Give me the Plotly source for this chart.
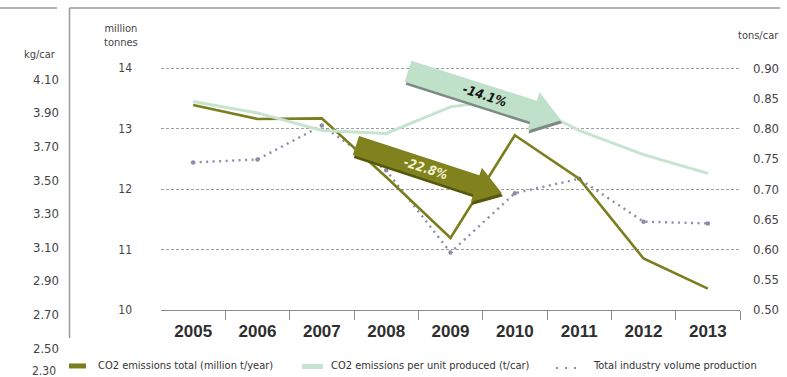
import numpy as np
import plotly.graph_objects as go

# ---------------- data ----------------
years = [2005, 2006, 2007, 2008, 2009, 2010, 2011, 2012, 2013]
co2_total = [13.39, 13.16, 13.17, 12.20, 11.19, 12.89, 12.17, 10.85, 10.35]       # million t/year
co2_per_unit = [0.845, 0.826, 0.797, 0.792, 0.836, 0.850, 0.797, 0.757, 0.726]   # t/car
production = [12.44, 12.49, 13.05, 12.31, 10.95, 11.93, 12.17, 11.46, 11.43]     # volume index (drawn on left scale)

left_ticks = [10, 11, 12, 13, 14]
right_ticks = [0.50, 0.55, 0.60, 0.65, 0.70, 0.75, 0.80, 0.85, 0.90]
kg_ticks = [2.50, 2.70, 2.90, 3.10, 3.30, 3.50, 3.70, 3.90, 4.10]

total_change = "-22.8%"
unit_change = "-14.1%"

# ---------------- geometry ----------------
W, H = 787, 377          # reference frame used for all fractions
FIG_H = 386              # rendered page height (photo is fitted to 377)
PX0, PX1 = 161, 740
PY_TOP, PY_BOT = 56, 309
XR = [2004.5, 2013.5]
YR = [10, 14.2]
Y2R = [0.5, 0.92]

FONT = "Liberation Sans Narrow, DejaVu Sans Condensed, Roboto Condensed, Arial Narrow, Roboto, sans-serif"
OLIVE = "#7a7e1c"
MINT = "#c6e4cf"
DOTC = "#8a8da6"


def to_px(xv, yv):
    return (PX0 + (xv - XR[0]) / (XR[1] - XR[0]) * (PX1 - PX0),
            PY_BOT - (yv - YR[0]) / (YR[1] - YR[0]) * (PY_BOT - PY_TOP))


def to_data(px, py):
    return (XR[0] + (px - PX0) / (PX1 - PX0) * (XR[1] - XR[0]),
            YR[0] + (PY_BOT - py) / (PY_BOT - PY_TOP) * (YR[1] - YR[0]))


def arrow_path(start, end, shaft_w, head_w, head_len, offset=(0, 0)):
    s = np.array(to_px(*start)) + offset
    t = np.array(to_px(*end)) + offset
    d = (t - s) / np.linalg.norm(t - s)
    n = np.array([-d[1], d[0]])
    h = t - d * head_len
    pts = [s + n * shaft_w / 2, h + n * shaft_w / 2, h + n * head_w / 2, t,
           h - n * head_w / 2, h - n * shaft_w / 2, s - n * shaft_w / 2]
    dpts = [to_data(*p) for p in pts]
    return "M " + " L ".join(f"{x:.4f},{y:.4f}" for x, y in dpts) + " Z"


fig = go.Figure()

fig.add_trace(go.Scatter(x=years, y=production, mode="lines+markers",
                         line=dict(color=DOTC, width=2.4, dash="2px,4.5px"),
                         marker=dict(size=4.5, color=DOTC),
                         name="Total industry volume production", yaxis="y"))
fig.add_trace(go.Scatter(x=years, y=co2_per_unit, mode="lines",
                         line=dict(color=MINT, width=3),
                         name="CO2 emissions per unit produced (t/car)", yaxis="y2"))
fig.add_trace(go.Scatter(x=years, y=co2_total, mode="lines",
                         line=dict(color=OLIVE, width=2.6),
                         name="CO2 emissions total (million t/year)", yaxis="y"))
# carrier for the detached kg/car scale
fig.add_trace(go.Scatter(x=[None], y=[None], xaxis="x3", yaxis="y3",
                         showlegend=False, hoverinfo="skip"))

# ---------------- arrows ----------------
total_arrow = dict(start=(2007.53, 12.72), end=(2009.80, 11.93))
unit_arrow = dict(start=(2008.34, 13.95), end=(2010.72, 13.14))

shapes = []
shapes.append(dict(type="path", xref="x", yref="y",
                   path=arrow_path(total_arrow["start"], total_arrow["end"], 20, 36, 27, (1, 3)),
                   fillcolor="#55570f", line=dict(width=0), layer="above"))
shapes.append(dict(type="path", xref="x", yref="y",
                   path=arrow_path(total_arrow["start"], total_arrow["end"], 20, 36, 27),
                   fillcolor="#7f821d", line=dict(width=0), layer="above"))
shapes.append(dict(type="path", xref="x", yref="y",
                   path=arrow_path(unit_arrow["start"], unit_arrow["end"], 22, 40, 29, (1, 3)),
                   fillcolor="#7e8a84", line=dict(width=0), layer="above"))
shapes.append(dict(type="path", xref="x", yref="y",
                   path=arrow_path(unit_arrow["start"], unit_arrow["end"], 22, 40, 29),
                   fillcolor="#bfe0c9", line=dict(width=0), layer="above"))

# frame lines
FR = "#9a9a9a"
shapes.append(dict(type="line", xref="paper", yref="paper", x0=0, x1=57 / W,
                   y0=1 - 8 / H, y1=1 - 8 / H, line=dict(color=FR, width=1.5)))
shapes.append(dict(type="line", xref="paper", yref="paper", x0=69.5 / W, x1=780 / W,
                   y0=1 - 8 / H, y1=1 - 8 / H, line=dict(color=FR, width=1.5)))
shapes.append(dict(type="line", xref="paper", yref="paper", x0=69.5 / W, x1=69.5 / W,
                   y0=1 - 8 / H, y1=1 - 337 / H, line=dict(color=FR, width=1.5)))

# legend swatches
shapes.append(dict(type="rect", xref="paper", yref="paper", x0=69 / W, x1=86 / W,
                   y0=1 - 367.5 / H, y1=1 - 362.5 / H, fillcolor=OLIVE, line=dict(width=0)))
shapes.append(dict(type="rect", xref="paper", yref="paper", x0=302 / W, x1=323 / W,
                   y0=1 - 368 / H, y1=1 - 363 / H, fillcolor=MINT, line=dict(width=0)))
shapes.append(dict(type="line", xref="paper", yref="paper", x0=556 / W, x1=580 / W,
                   y0=1 - 367 / H, y1=1 - 367 / H,
                   line=dict(color=DOTC, width=2, dash="2px,7px")))

annotations = []


def ann(text, x, y, xanchor="center", size=11, color="#444", **kw):
    annotations.append(dict(text=text, x=x / W, y=1 - y / H, xref="paper", yref="paper",
                            xanchor=xanchor, yanchor="middle", showarrow=False,
                            font=dict(family=FONT, size=size, color=color), **kw))


ann("million<br>tonnes", 121, 35, size=11)
ann("tons/car", 781, 35, xanchor="right", size=11)
ann("kg/car", 58, 54, xanchor="right", size=11)
ann("2.30", 58, 370, xanchor="right", size=12)

ann("CO2 emissions total (million t/year)", 96, 365, xanchor="left", size=11, color="#333")
ann("CO2 emissions per unit produced (t/car)", 329, 365, xanchor="left", size=11, color="#333")
ann("Total industry volume production", 591, 365, xanchor="left", size=11, color="#333")

# arrow labels
mid_t = ((total_arrow["start"][0] * 0.52 + total_arrow["end"][0] * 0.48),
         (total_arrow["start"][1] * 0.52 + total_arrow["end"][1] * 0.48))
mid_u = ((unit_arrow["start"][0] * 0.5 + unit_arrow["end"][0] * 0.5),
         (unit_arrow["start"][1] * 0.5 + unit_arrow["end"][1] * 0.5))
annotations.append(dict(text=f"<b><i>{total_change}</i></b>", x=mid_t[0], y=mid_t[1],
                        xref="x", yref="y", showarrow=False, textangle=18,
                        font=dict(family=FONT, size=13, color="#f4f1cc")))
annotations.append(dict(text=f"<b><i>{unit_change}</i></b>", x=mid_u[0], y=mid_u[1],
                        xref="x", yref="y", showarrow=False, textangle=18,
                        font=dict(family=FONT, size=13, color="#151515")))

fig.update_layout(
    width=W, height=FIG_H,
    margin=dict(l=0, r=0, t=0, b=0),
    paper_bgcolor="white", plot_bgcolor="rgba(0,0,0,0)",
    showlegend=False,
    font=dict(family=FONT, color="#444"),
    shapes=shapes,
    annotations=annotations,
    xaxis=dict(domain=[PX0 / W, PX1 / W], range=XR, type="linear",
               tickvals=years, ticktext=[str(y) for y in years], ticks="",
               tickfont=dict(family="Liberation Sans, Arial, sans-serif", size=17, color="#2e2e2e",
                             weight="bold"),
               ticklabelstandoff=6,
               showline=True, linecolor="#8c8c8c", linewidth=1.2,
               showgrid=False, zeroline=False,
               minor=dict(tickmode="array", tickvals=[y + 0.5 for y in years],
                          ticks="outside", ticklen=9, tickcolor="#8c8c8c", tickwidth=1.2,
                          showgrid=False)),
    yaxis=dict(domain=[(H - PY_BOT) / H, (H - PY_TOP) / H], range=YR,
               tickvals=left_ticks, ticktext=[str(v) for v in left_ticks],
               ticks="", showline=False, zeroline=False,
               showgrid=True, gridcolor="#9e9e9e", gridwidth=1, griddash="3px,2px",
               tickfont=dict(size=12, color="#444"), ticklabelstandoff=28),
    yaxis2=dict(overlaying="y", side="right", anchor="x", range=Y2R,
                tickvals=right_ticks, ticktext=[f"{v:.2f}" for v in right_ticks],
                ticks="", showline=False, showgrid=False, zeroline=False,
                tickfont=dict(size=13, color="#444"), ticklabelstandoff=12),
    xaxis3=dict(domain=[70 / W, 72 / W], visible=False, anchor="y3"),
    yaxis3=dict(domain=[0, 1], anchor="x3", range=[2.321, 4.572],
                tickvals=kg_ticks, ticktext=[f"{v:.2f}" for v in kg_ticks],
                ticks="", showline=False, showgrid=False, zeroline=False,
                tickfont=dict(size=13, color="#444"), ticklabelstandoff=10),
)

fig.write_html(
    "out.html",
    config={"displayModeBar": False},
    post_script=(
        "var de=document.documentElement,b=document.body;"
        "de.style.margin='0';de.style.padding='0';de.style.overflow='hidden';"
        "b.style.margin='0';b.style.padding='0';b.style.overflow='hidden';"
    ),
)
